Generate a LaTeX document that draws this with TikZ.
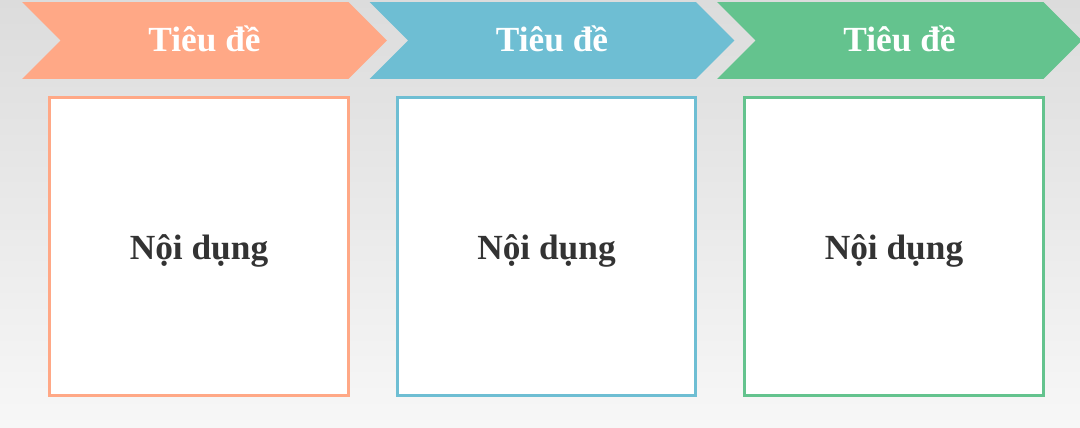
\documentclass[tikz,border=0pt]{standalone}
\usepackage{fontspec}
\setmainfont{Liberation Serif}
\usetikzlibrary{shapes.symbols}
\definecolor{camA}{HTML}{FFA886}
\definecolor{xanhA}{HTML}{6EBED3}
\definecolor{lucA}{HTML}{64C38E}
\definecolor{chuA}{HTML}{333333}
\definecolor{nenTren}{HTML}{DCDCDC}
\definecolor{nenDuoi}{HTML}{F7F7F7}

\begin{document}
\begin{tikzpicture}[x=0.02cm, y=-0.02cm,
	tieude/.style={signal, signal from=west, signal to=east, signal pointer angle=90,
		minimum width=7.3cm, minimum height=1.54cm, inner sep=0pt,
		text height=0.44cm, text depth=0pt,
		text=white, font=\fontsize{20.1}{24}\selectfont\bfseries},
	noidung/.style={draw, line width=0.06cm, fill=white,
		minimum width=5.98cm, minimum height=5.96cm, inner sep=0pt,
		text height=0.5cm, text depth=0pt,
		text=chuA, font=\fontsize{20.1}{24}\selectfont\bfseries}]
	\useasboundingbox (0,0) rectangle (1080,427);
	\shade[top color=nenTren, bottom color=nenDuoi] (0,0) rectangle (1080,427);
	
	\foreach \mau/\ten [count=\i from 0] in {camA/a, xanhA/b, lucA/c}
	{
		\node[tieude, fill=\mau] (td-\ten) at (204.5+347.5*\i, 40.5) {Tiêu đề};
		\node[noidung, draw=\mau] (nd-\ten) at (199+347.5*\i, 246.5) {Nội dụng};
	}
\end{tikzpicture}
\end{document}
